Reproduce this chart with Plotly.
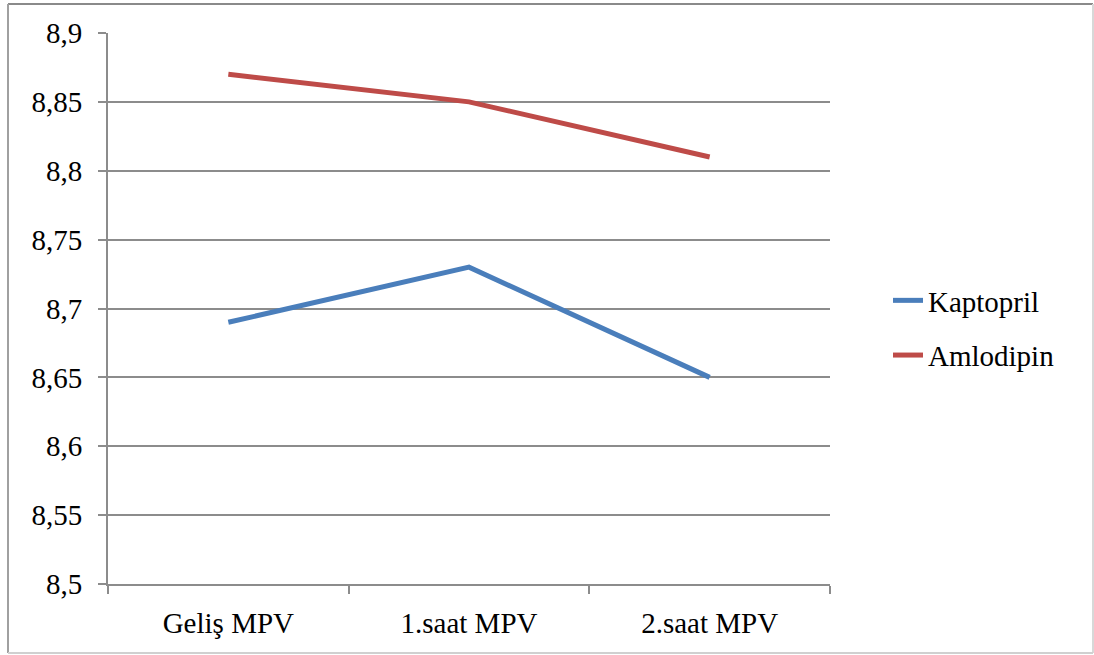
import plotly.graph_objects as go

categories = ["Geliş MPV", "1.saat MPV", "2.saat MPV"]
kaptopril = [8.69, 8.73, 8.65]
amlodipin = [8.87, 8.85, 8.81]

W, H = 1094, 655
L, R, T, B = 108, 264, 33, 71
pw, ph = W - L - R, H - T - B

def px_x(x):
    return (x - L) / pw

def px_y(y):
    return (H - B - y) / ph

font = "'Liberation Serif', 'Times New Roman', Tinos, 'DejaVu Serif', serif"

fig = go.Figure()
fig.add_trace(go.Scatter(x=categories, y=kaptopril, mode="lines", name="Kaptopril",
                         line=dict(color="#4A7EBB", width=5), legendgroup="a"))
fig.add_trace(go.Scatter(x=categories, y=amlodipin, mode="lines", name="Amlodipin",
                         line=dict(color="#BE4B48", width=5), legendgroup="b"))

grid = "#8c8c8c"
fig.update_layout(
    width=W, height=H,
    margin=dict(l=L, r=R, t=T, b=B),
    paper_bgcolor="white", plot_bgcolor="white",
    separators=",.",
    font=dict(family=font, size=29, color="black"),
    showlegend=True,
    legend=dict(x=px_x(888), y=px_y(328), xanchor="left", yanchor="middle",
                font=dict(family=font, size=29, color="black"),
                tracegroupgap=14, bgcolor="rgba(0,0,0,0)"),
    xaxis=dict(type="category", range=[-0.5, 2.5], tickson="boundaries",
               showgrid=False, showline=True, linecolor=grid, linewidth=2,
               ticks="outside", ticklen=8, tickcolor=grid, tickwidth=2,
               ticklabelstandoff=12, zeroline=False,
               tickfont=dict(family=font, size=29, color="black")),
    yaxis=dict(range=[8.5, 8.9], dtick=0.05, tick0=8.5, showgrid=True,
               gridcolor=grid, gridwidth=2, showline=True, linecolor=grid, linewidth=2,
               ticks="outside", ticklen=8, tickcolor=grid, tickwidth=2,
               ticklabelstandoff=10, zeroline=False,
               tickfont=dict(family=font, size=29, color="black")),
    shapes=[
        dict(type="line", xref="paper", yref="paper", x0=px_x(8), x1=px_x(1093), y0=px_y(4), y1=px_y(4),
             line=dict(color="#8a8a8a", width=2)),
        dict(type="line", xref="paper", yref="paper", x0=px_x(8), x1=px_x(8), y0=px_y(4), y1=px_y(653),
             line=dict(color="#a0a0a0", width=2)),
        dict(type="line", xref="paper", yref="paper", x0=px_x(1093), x1=px_x(1093), y0=px_y(4), y1=px_y(653),
             line=dict(color="#d8d8d8", width=2)),
        dict(type="line", xref="paper", yref="paper", x0=px_x(8), x1=px_x(1093), y0=px_y(653), y1=px_y(653),
             line=dict(color="#d0d0d0", width=2)),
    ],
)

fig.write_html("out.html")
